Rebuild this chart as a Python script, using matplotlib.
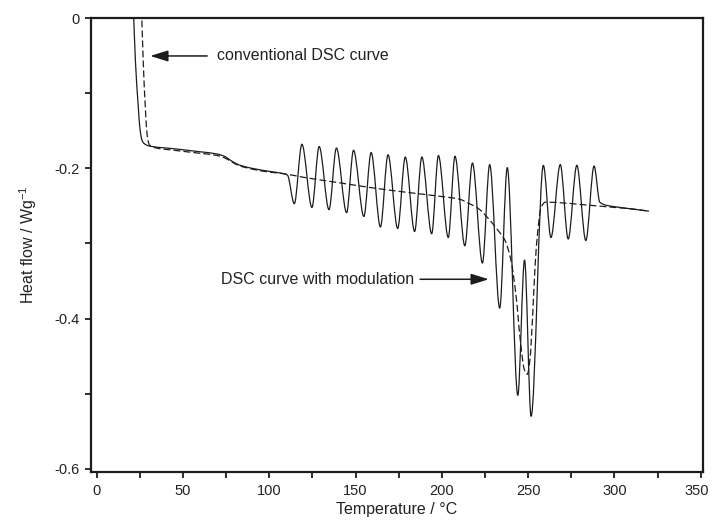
import numpy as np
import matplotlib
matplotlib.use('Agg')
import matplotlib.pyplot as plt
from matplotlib.path import Path
from matplotlib.patches import PathPatch
from matplotlib.ticker import MultipleLocator, FixedLocator, FixedFormatter
from matplotlib.transforms import ScaledTranslation

plt.rcParams['font.family'] = ['Liberation Sans', 'DejaVu Sans']
plt.rcParams['mathtext.fontset'] = 'custom'
plt.rcParams['mathtext.rm'] = 'Liberation Sans'
plt.rcParams['mathtext.it'] = 'Liberation Sans:italic'
plt.rcParams['axes.unicode_minus'] = False

# ---------------- data ----------------
# conventional DSC curve (dashed)
conv_T = [26.0, 27.0, 28.2, 29.2, 30.2, 31.5, 45, 60, 70, 74, 78, 82, 90, 100, 108,
          120, 140, 163, 180, 198, 210, 216, 222, 227, 232, 236.6, 240, 243, 245.5,
          247.8, 249.5, 251, 252.5, 254, 255.5, 257.5, 260, 270, 280, 290, 300, 310, 320]
conv_HF = [0.01, -0.06, -0.12, -0.155, -0.167, -0.171, -0.176, -0.180, -0.183, -0.186,
           -0.191, -0.196, -0.201, -0.205, -0.207, -0.212, -0.219, -0.227, -0.232, -0.237,
           -0.241, -0.247, -0.255, -0.267, -0.281, -0.296, -0.322, -0.370, -0.430,
           -0.468, -0.474, -0.455, -0.400, -0.330, -0.285, -0.252, -0.245, -0.246,
           -0.248, -0.250, -0.252, -0.254, -0.257]

# DSC curve with modulation (solid): baseline, then alternating troughs/peaks
mod_T = [21.3, 22.5, 24.0, 25.2, 26.3, 27.5, 30, 45, 60, 70, 74, 78, 82, 90, 100, 108, 110.5,
         114.5, 118.9, 124.7, 128.9, 134.6, 138.9, 144.8, 148.8, 154.8, 159.0, 164.4, 168.8,
         174.4, 178.8, 184.2, 188.4, 194.1, 198.0, 203.7, 207.6, 213.3, 217.7, 223.5, 227.7,
         233.5, 237.9, 244.0, 247.9, 251.7, 258.8, 263.2, 268.6, 273.2, 278.2, 283.4, 288.2,
         291.5, 295, 300, 310, 320]
mod_HF = [0.01, -0.06, -0.115, -0.150, -0.163, -0.167, -0.170, -0.174, -0.178, -0.181,
          -0.184, -0.190, -0.195, -0.200, -0.204, -0.207, -0.209,
          -0.247, -0.168, -0.252, -0.171, -0.255, -0.173, -0.259, -0.176, -0.264, -0.179,
          -0.278, -0.182, -0.280, -0.185, -0.284, -0.185, -0.287, -0.183, -0.292, -0.184,
          -0.303, -0.193, -0.326, -0.195, -0.386, -0.199, -0.502, -0.322, -0.530, -0.196,
          -0.292, -0.195, -0.294, -0.196, -0.296, -0.197,
          -0.245, -0.249, -0.251, -0.254, -0.257]

x_ticks = [0, 50, 100, 150, 200, 250, 300, 350]
x_tick_labels = ['0', '50', '100', '150', '200', '250', '300', '350']
y_ticks = [0, -0.2, -0.4, -0.6]
y_tick_labels = ['0', '-0.2', '-0.4', '-0.6']

x_label = 'Temperature / °C'
y_label = 'Heat flow / Wg$^{-1}$'
label_conv = 'conventional DSC curve'
label_mod = 'DSC curve with modulation'


# ---------------- helpers ----------------
def smooth_path(xs, ys):
    """Monotone (PCHIP-style) cubic Bezier path through the given points."""
    xs = np.asarray(xs, float)
    ys = np.asarray(ys, float)
    n = len(xs)
    h = np.diff(xs)
    d = np.diff(ys) / h
    m = np.zeros(n)
    for i in range(1, n - 1):
        if d[i - 1] * d[i] > 0:
            w1 = 2 * h[i] + h[i - 1]
            w2 = h[i] + 2 * h[i - 1]
            m[i] = (w1 + w2) / (w1 / d[i - 1] + w2 / d[i])
        else:
            m[i] = 0.0
    m[0] = d[0]
    m[-1] = d[-1]
    verts = [(xs[0], ys[0])]
    codes = [Path.MOVETO]
    for i in range(n - 1):
        hh = h[i]
        verts += [(xs[i] + hh / 3, ys[i] + m[i] * hh / 3),
                  (xs[i + 1] - hh / 3, ys[i + 1] - m[i + 1] * hh / 3),
                  (xs[i + 1], ys[i + 1])]
        codes += [Path.CURVE4] * 3
    return Path(verts, codes)


# ---------------- figure ----------------
fig = plt.figure(figsize=(7.12, 5.25), dpi=100)
ax = fig.add_axes([91 / 712, 1 - 472 / 525, (703 - 91) / 712, (472 - 18) / 525])

ink = '#1c1c1c'
ax.add_patch(PathPatch(smooth_path(conv_T, conv_HF), fill=False, edgecolor=ink,
                       lw=0.9, linestyle=(0, (5.5, 2.5))))
ax.add_patch(PathPatch(smooth_path(mod_T, mod_HF), fill=False, edgecolor=ink, lw=0.9))

ax.set_xlim(-3.3, 351.3)
ax.set_ylim(-0.604, 0.0)

ax.xaxis.set_major_locator(FixedLocator(x_ticks))
ax.xaxis.set_major_formatter(FixedFormatter(x_tick_labels))
ax.xaxis.set_minor_locator(MultipleLocator(25))
ax.yaxis.set_major_locator(FixedLocator(y_ticks))
ax.yaxis.set_major_formatter(FixedFormatter(y_tick_labels))
ax.yaxis.set_minor_locator(MultipleLocator(0.1))

for s in ax.spines.values():
    s.set_linewidth(1.6)
    s.set_color(ink)
ax.tick_params(which='both', direction='out', length=4.5, width=1.3, color=ink,
               top=False, right=False, labelsize=10.5, labelcolor='#222222', pad=4)

ax.set_xlabel(x_label, fontsize=11.5, color='#222222', labelpad=3)
ax.set_ylabel(y_label, fontsize=11.5, color='#222222')
ax.yaxis.set_label_coords(-0.085, 0.5)

arrow_kw = dict(arrowstyle='-|>,head_length=0.9,head_width=0.28', color=ink, lw=1.1,
                shrinkA=0, shrinkB=0, mutation_scale=12)
ax.annotate('', xy=(31.0, -0.0505), xytext=(64.0, -0.0505), arrowprops=arrow_kw)
ax.text(69.5, -0.0505, label_conv, fontsize=11.5, color='#222222', va='center', ha='left')

ax.annotate('', xy=(227.2, -0.3476), xytext=(187.4, -0.3476), arrowprops=arrow_kw)
ax.text(71.9, -0.3476, label_mod, fontsize=11.5, color='#222222', va='center', ha='left')

fig.canvas.draw()
last = ax.xaxis.get_major_ticks()[-1].label1
last.set_transform(last.get_transform() + ScaledTranslation(-3 / 72, 0, fig.dpi_scale_trans))

fig.savefig('out.png', dpi=100)
